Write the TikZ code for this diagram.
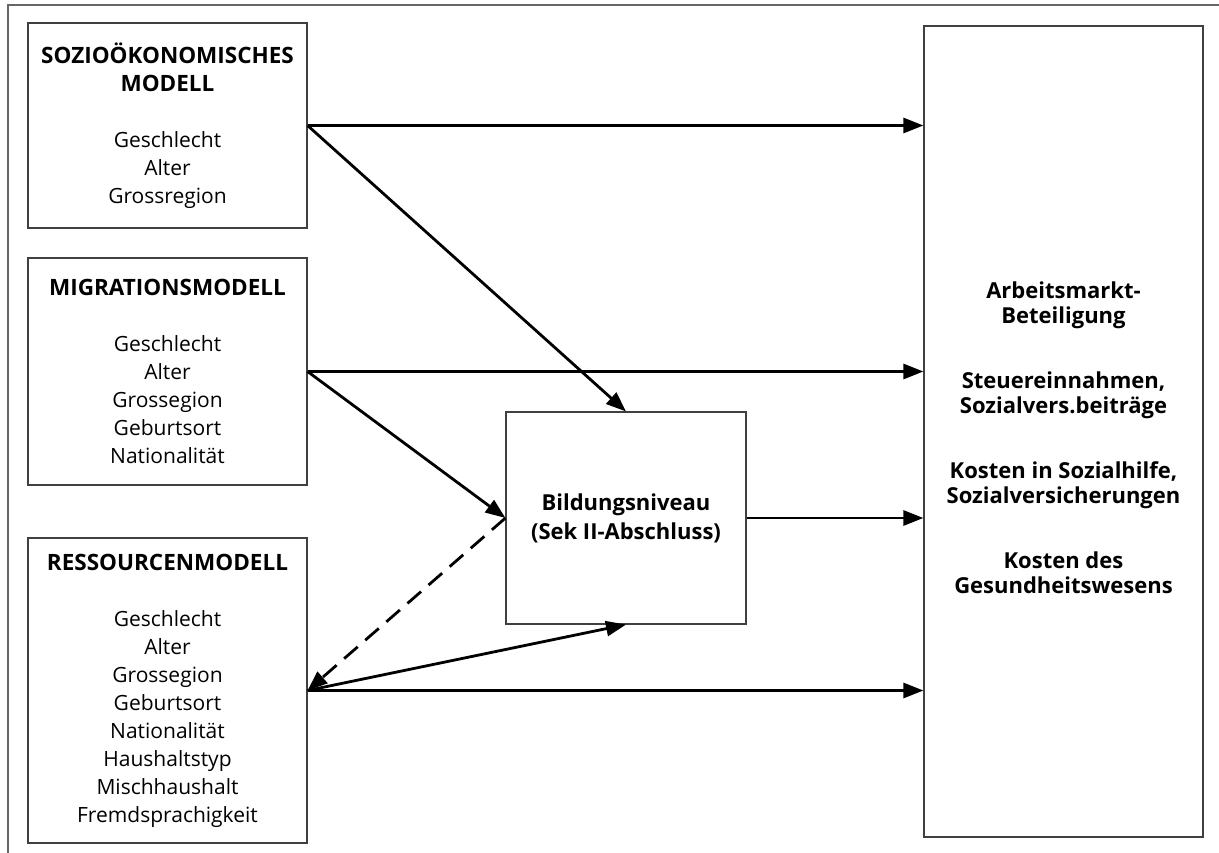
\documentclass[tikz,border=0pt]{standalone}
\usepackage{fontspec}
\setmainfont{Open Sans}
\usetikzlibrary{arrows.meta}
\newcommand{\kopfschrift}{\bfseries\fontsize{22.5}{28}\selectfont}

\begin{document}
\begin{tikzpicture}[x=1pt,y=-1pt,
  box/.style={draw=black!75,line width=1.1pt,align=center,inner sep=0pt},
  pfeil/.style={-{Triangle[length=20pt,width=15pt]},line width=2.8pt},
  txt/.style={font=\fontsize{21}{28}\selectfont},
  ]
\useasboundingbox (0,0) rectangle (1219,853);
% outer frame
\draw[black!60,line width=1.2pt] (8,853) -- (8,5) -- (1219,5);
% models on the left
\node[box,txt,minimum width=279pt,minimum height=205pt] (sozio) at (167.5,125.5)
  {{\kopfschrift SOZIOÖKONOMISCHES}\\{\kopfschrift MODELL}\\[28pt]
   Geschlecht\\Alter\\Grossregion};
\node[box,txt,minimum width=279pt,minimum height=227pt] (migration) at (167.5,371.5)
  {{\kopfschrift MIGRATIONSMODELL}\\[28pt]
   Geschlecht\\Alter\\Grossegion\\Geburtsort\\Nationalität};
\node[box,txt,minimum width=279pt,minimum height=305pt] (ressourcen) at (167.5,690.5)
  {{\kopfschrift RESSOURCENMODELL}\\[28pt]
   Geschlecht\\Alter\\Grossegion\\Geburtsort\\Nationalität\\Haushaltstyp\\Mischhaushalt\\Fremdsprachigkeit};
% middle
\node[box,font=\bfseries\fontsize{22}{29}\selectfont,minimum width=240pt,minimum height=212pt] (bildung) at (626,518)
  {Bildungsniveau\\(Sek II-Abschluss)};
% outcomes on the right
\node[box,minimum width=279pt,minimum height=811pt] (ziel) at (1063.5,431.5) {};
\node[align=center,font=\bfseries\fontsize{22}{25}\selectfont] (zieltxt) at (1063.5,438)
  {Arbeitsmarkt-\\Beteiligung\\[40pt]
   Steuereinnahmen,\\Sozialvers.beiträge\\[40pt]
   Kosten in Sozialhilfe,\\Sozialversicherungen\\[40pt]
   Kosten des\\Gesundheitswesens};
% arrows
\draw[pfeil] (sozio.east) -- (sozio.east -| ziel.west);
\draw[pfeil] (sozio.east) -- (bildung.north);
\draw[pfeil] (migration.east) -- (migration.east -| ziel.west);
\draw[pfeil] (migration.east) -- (bildung.west);
\draw[pfeil] (bildung.east) -- (bildung.east -| ziel.west);
\draw[pfeil,dash pattern=on 18pt off 10pt] (bildung.west) -- (ressourcen.east);
\draw[pfeil] (ressourcen.east) -- (bildung.south);
\draw[pfeil] (ressourcen.east) -- (ressourcen.east -| ziel.west);
\end{tikzpicture}
\end{document}
